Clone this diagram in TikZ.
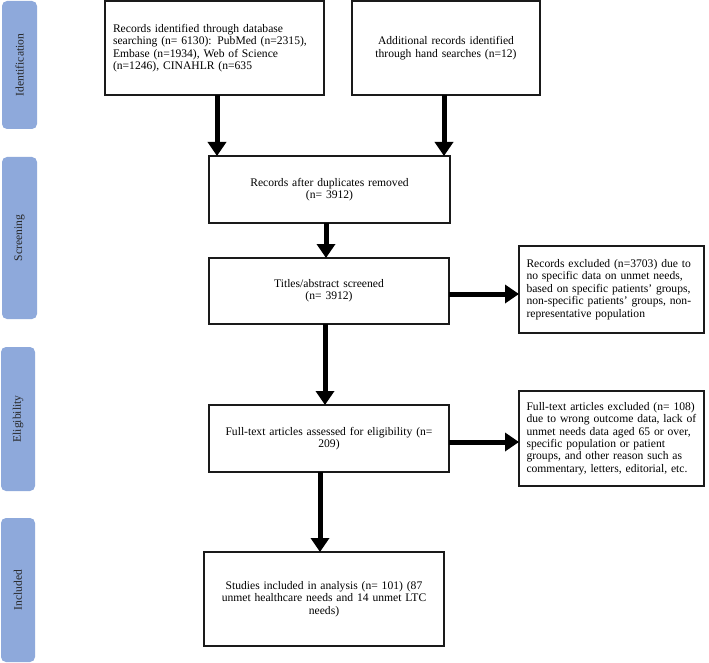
\documentclass[tikz,border=0pt]{standalone}
\usepackage{fontspec}
\setmainfont{Liberation Serif}
\usetikzlibrary{arrows.meta}
\definecolor{barblue}{HTML}{8EA9DB}
\definecolor{boxline}{HTML}{1A1A1A}
\newcommand{\flowfont}{\fontsize{11.6}{12.4}\selectfont}
\tikzset{
  box/.style={draw=boxline, line width=1.2pt, fill=white, inner sep=0pt, outer sep=0pt, font=\flowfont},
  bar/.style={fill=barblue, rounded corners=5pt, rotate=90, inner sep=0pt, outer sep=0pt, text=black!85, font=\flowfont},
  arr/.style={line width=5pt, -{Triangle[width=18pt,length=14pt]}}
}
\begin{document}
\flowfont
\begin{tikzpicture}[x=1pt,y=-1pt]
\useasboundingbox (0,0) rectangle (709,663);

% side bars
\node[bar, minimum width=128pt, minimum height=35pt] (barI) at (19.5,65) {Identification};
\node[bar, minimum width=162pt, minimum height=35pt] (barS) at (19.5,238) {Screening};
\node[bar, minimum width=144pt, minimum height=34pt] (barE) at (18,419) {Eligibility};
\node[bar, minimum width=144pt, minimum height=34pt] (barN) at (18,590) {Included};

% boxes
\node[box, minimum width=219pt, minimum height=94pt, text width=203pt, align=left] (A) at (214.5,48)
  {Records identified through database\\searching (n= 6130): PubMed (n=2315),\\Embase (n=1934), Web of Science\\(n=1246), CINAHLR (n=635};
\node[box, minimum width=188pt, minimum height=94pt, text width=172pt, align=center] (B) at (446,48)
  {Additional records identified\\through hand searches (n=12)};
\node[box, minimum width=241pt, minimum height=67pt, text width=224pt, align=center] (C) at (329.5,189.5)
  {Records after duplicates removed\\(n= 3912)};
\node[box, minimum width=240pt, minimum height=66pt, text width=224pt, align=center] (D) at (329,291)
  {Titles/abstract screened\\(n= 3912)};
\node[box, minimum width=185pt, minimum height=87pt, text width=170pt, align=left] (E) at (611.5,289.5)
  {Records excluded (n=3703) due to\\no specific data on unmet needs,\\based on specific patients’ groups,\\non-specific patients’ groups, non-\\representative population};
\node[box, minimum width=240pt, minimum height=67pt, text width=224pt, align=center] (F) at (329,438.5)
  {Full-text articles assessed for eligibility (n=\\209)};
\node[box, minimum width=185pt, minimum height=95pt, text width=170pt, align=left] (G) at (611.5,438.5)
  {Full-text articles excluded (n= 108)\\due to wrong outcome data, lack of\\unmet needs data aged 65 or over,\\specific population or patient\\groups, and other reason such as\\commentary, letters, editorial, etc.};
\node[box, minimum width=240pt, minimum height=94pt, text width=224pt, align=center] (H) at (324,599)
  {Studies included in analysis (n= 101) (87\\unmet healthcare needs and 14 unmet LTC\\needs)};

% arrows
\draw[arr] ([xshift=2.5pt]A.south) -- ([xshift=2.5pt]A.south |- C.north);
\draw[arr] ([xshift=-2pt]B.south) -- ([xshift=-2pt]B.south |- C.north);
\draw[arr] ([xshift=-3.5pt]C.south) -- ([xshift=-3.5pt]C.south |- D.north);
\draw[arr] ([xshift=-4pt]D.south) -- ([xshift=-4pt]D.south |- F.north);
\draw[arr] ([xshift=-9pt]F.south) -- ([xshift=-9pt]F.south |- H.north);
\draw[arr] ([yshift=-3pt]D.east) -- ([yshift=-3pt]D.east -| E.west);
\draw[arr] ([yshift=-3.5pt]F.east) -- ([yshift=-3.5pt]F.east -| G.west);
\end{tikzpicture}
\end{document}
